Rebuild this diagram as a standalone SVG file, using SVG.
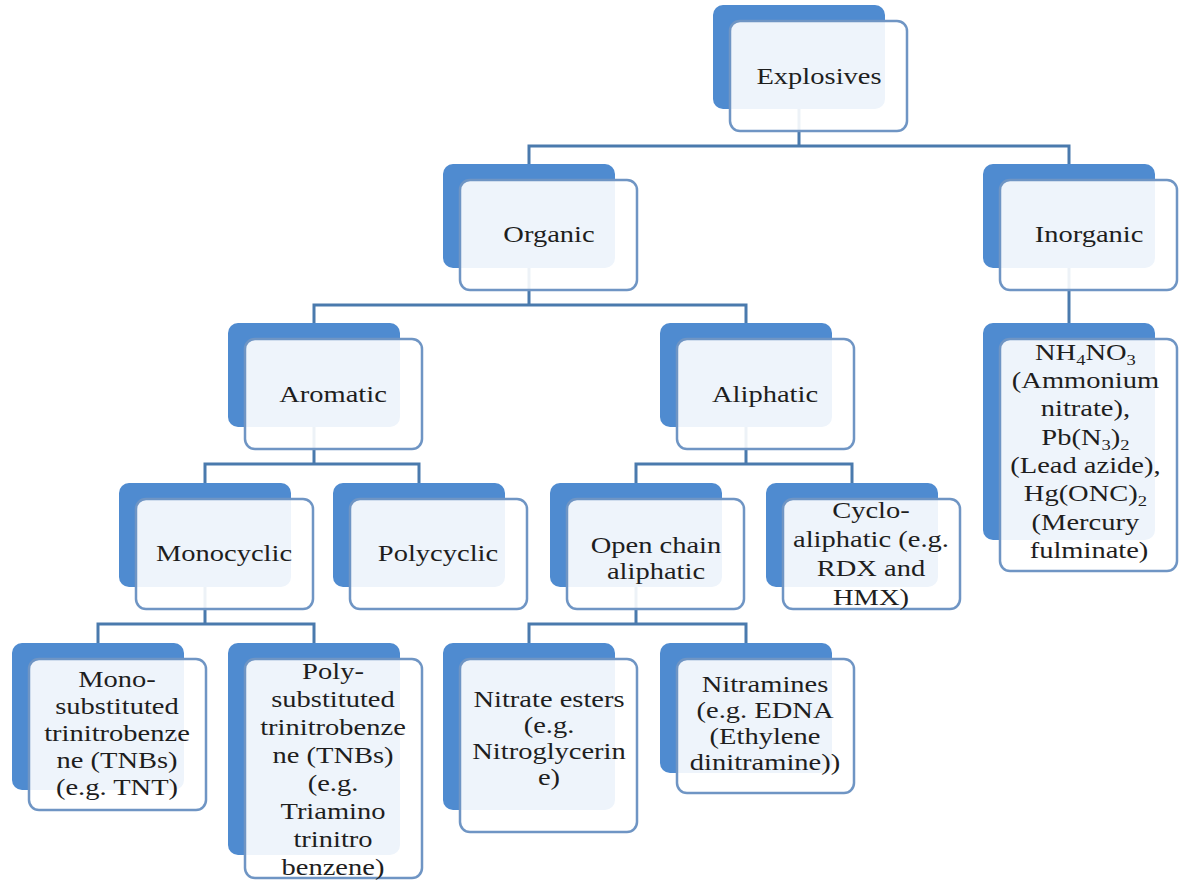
<svg xmlns="http://www.w3.org/2000/svg" width="1182" height="881" viewBox="0 0 1182 881">
<style>
.bk{fill:#4f8bd0;}
.fr{fill:#ffffff;fill-opacity:0.9;stroke:#6f95c4;stroke-width:2.5;}
.cn{fill:none;stroke:#4a7aad;stroke-width:3;}
.t{font-family:"Liberation Serif","Times New Roman",serif;font-size:23px;fill:#1e1e1e;text-anchor:middle;}
.sb{font-size:15px;}
</style>
<rect width="1182" height="881" fill="#ffffff"/>
<g id="connectors">
<path class="cn" d="M799 60 V146 M529 164 V146 H1069 V164"/>
<path class="cn" d="M529 230 V305 M314 323 V305 H746 V323"/>
<path class="cn" d="M1069 230 V323"/>
<path class="cn" d="M314 390 V464 M205 483 V464 H419 V483"/>
<path class="cn" d="M746 390 V464 M636 483 V464 H852 V483"/>
<path class="cn" d="M205 550 V624 M98 643 V624 H314 V643"/>
<path class="cn" d="M636 550 V624 M529 643 V624 H746 V643"/>
</g>
<g id="explosives">
<rect class="bk" x="713" y="5" width="172" height="104" rx="10"/>
<rect class="fr" x="730" y="21" width="177" height="110" rx="10"/>
<text class="t" transform="translate(819 0) scale(1.24 1)"><tspan x="0" y="84">Explosives</tspan></text>
</g>
<g id="organic">
<rect class="bk" x="443" y="164" width="172" height="104" rx="10"/>
<rect class="fr" x="460" y="180" width="177" height="110" rx="10"/>
<text class="t" transform="translate(549 0) scale(1.24 1)"><tspan x="0" y="242">Organic</tspan></text>
</g>
<g id="inorganic">
<rect class="bk" x="983" y="164" width="172" height="104" rx="10"/>
<rect class="fr" x="1000" y="180" width="177" height="110" rx="10"/>
<text class="t" transform="translate(1089 0) scale(1.24 1)"><tspan x="0" y="242">Inorganic</tspan></text>
</g>
<g id="aromatic">
<rect class="bk" x="228" y="323" width="172" height="104" rx="10"/>
<rect class="fr" x="245" y="339" width="177" height="110" rx="10"/>
<text class="t" transform="translate(333 0) scale(1.24 1)"><tspan x="0" y="402">Aromatic</tspan></text>
</g>
<g id="aliphatic">
<rect class="bk" x="660" y="323" width="172" height="104" rx="10"/>
<rect class="fr" x="677" y="339" width="177" height="110" rx="10"/>
<text class="t" transform="translate(765 0) scale(1.24 1)"><tspan x="0" y="402">Aliphatic</tspan></text>
</g>
<g id="inorganic-examples">
<rect class="bk" x="983" y="323" width="172" height="217" rx="10"/>
<rect class="fr" x="1000" y="339" width="177" height="232" rx="10"/>
<text class="t" transform="translate(1089 0) scale(1.24 1)">
<tspan x="0" y="360">NH<tspan class="sb" dy="5">4</tspan><tspan dy="-5">NO</tspan><tspan class="sb" dy="5">3</tspan></tspan>
<tspan x="0" y="388">(Ammonium</tspan>
<tspan x="0" y="416">nitrate),</tspan>
<tspan x="0" y="445">Pb(N<tspan class="sb" dy="5">3</tspan><tspan dy="-5">)</tspan><tspan class="sb" dy="5">2</tspan></tspan>
<tspan x="0" y="473">(Lead azide),</tspan>
<tspan x="0" y="501">Hg(ONC)<tspan class="sb" dy="5">2</tspan></tspan>
<tspan x="0" y="530">(Mercury</tspan>
<tspan x="0" y="558">fulminate)</tspan>
</text>
</g>
<g id="monocyclic">
<rect class="bk" x="119" y="483" width="172" height="104" rx="10"/>
<rect class="fr" x="136" y="499" width="177" height="110" rx="10"/>
<text class="t" transform="translate(224 0) scale(1.24 1)"><tspan x="0" y="561">Monocyclic</tspan></text>
</g>
<g id="polycyclic">
<rect class="bk" x="333" y="483" width="172" height="104" rx="10"/>
<rect class="fr" x="350" y="499" width="177" height="110" rx="10"/>
<text class="t" transform="translate(438 0) scale(1.24 1)"><tspan x="0" y="561">Polycyclic</tspan></text>
</g>
<g id="open-chain">
<rect class="bk" x="550" y="483" width="172" height="104" rx="10"/>
<rect class="fr" x="567" y="499" width="177" height="110" rx="10"/>
<text class="t" transform="translate(656 0) scale(1.24 1)"><tspan x="0" y="553">Open chain</tspan><tspan x="0" y="579">aliphatic</tspan></text>
</g>
<g id="cycloaliphatic">
<rect class="bk" x="766" y="483" width="172" height="104" rx="10"/>
<rect class="fr" x="783" y="499" width="177" height="110" rx="10"/>
<text class="t" transform="translate(871 0) scale(1.24 1)"><tspan x="0" y="518">Cyclo-</tspan><tspan x="0" y="547">aliphatic (e.g.</tspan><tspan x="0" y="576">RDX and</tspan><tspan x="0" y="605">HMX)</tspan></text>
</g>
<g id="mono-substituted">
<rect class="bk" x="12" y="643" width="172" height="147" rx="10"/>
<rect class="fr" x="29" y="659" width="177" height="151" rx="10"/>
<text class="t" transform="translate(117 0) scale(1.24 1)"><tspan x="0" y="687">Mono-</tspan><tspan x="0" y="714">substituted</tspan><tspan x="0" y="741">trinitrobenze</tspan><tspan x="0" y="768">ne (TNBs)</tspan><tspan x="0" y="795">(e.g. TNT)</tspan></text>
</g>
<g id="poly-substituted">
<rect class="bk" x="228" y="643" width="172" height="212" rx="10"/>
<rect class="fr" x="245" y="659" width="177" height="219" rx="10"/>
<text class="t" transform="translate(333 0) scale(1.24 1)"><tspan x="0" y="679">Poly-</tspan><tspan x="0" y="707">substituted</tspan><tspan x="0" y="735">trinitrobenze</tspan><tspan x="0" y="763">ne (TNBs)</tspan><tspan x="0" y="791">(e.g.</tspan><tspan x="0" y="819">Triamino</tspan><tspan x="0" y="847">trinitro</tspan><tspan x="0" y="875">benzene)</tspan></text>
</g>
<g id="nitrate-esters">
<rect class="bk" x="443" y="643" width="172" height="167" rx="10"/>
<rect class="fr" x="460" y="659" width="177" height="173" rx="10"/>
<text class="t" transform="translate(549 0) scale(1.24 1)"><tspan x="0" y="707">Nitrate esters</tspan><tspan x="0" y="733">(e.g.</tspan><tspan x="0" y="759">Nitroglycerin</tspan><tspan x="0" y="785">e)</tspan></text>
</g>
<g id="nitramines">
<rect class="bk" x="660" y="643" width="172" height="130" rx="10"/>
<rect class="fr" x="677" y="659" width="177" height="134" rx="10"/>
<text class="t" transform="translate(765 0) scale(1.24 1)"><tspan x="0" y="692">Nitramines</tspan><tspan x="0" y="718">(e.g. EDNA</tspan><tspan x="0" y="744">(Ethylene</tspan><tspan x="0" y="770">dinitramine))</tspan></text>
</g>
</svg>
